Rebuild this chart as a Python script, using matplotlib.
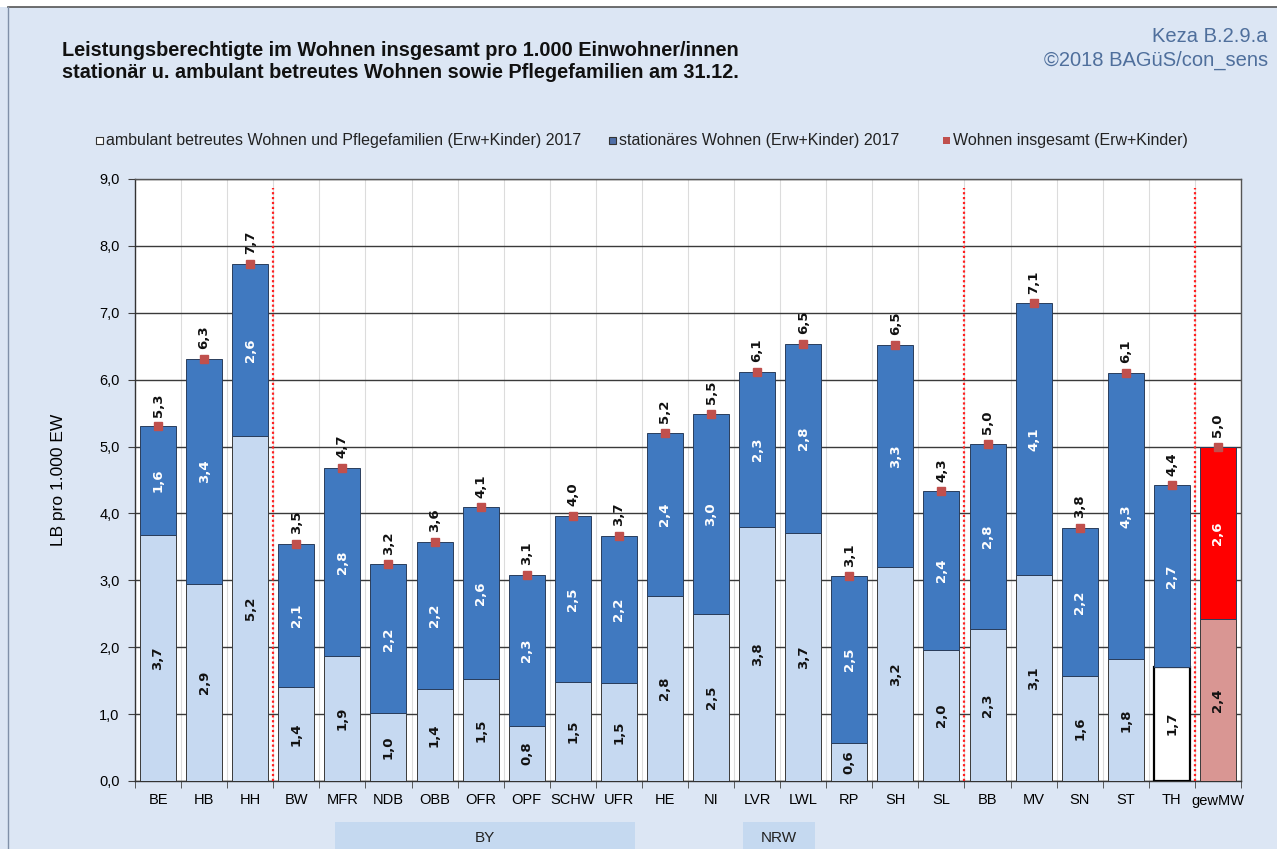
import numpy as np
import matplotlib
matplotlib.use("Agg")
import matplotlib.pyplot as plt
from matplotlib.patches import Rectangle

categories = ["BE", "HB", "HH", "BW", "MFR", "NDB", "OBB", "OFR", "OPF", "SCHW", "UFR",
              "HE", "NI", "LVR", "LWL", "RP", "SH", "SL", "BB", "MV", "SN", "ST", "TH", "gewMW"]
ambulant = [3.68, 2.94, 5.16, 1.40, 1.87, 1.01, 1.37, 1.53, 0.82, 1.48, 1.46,
            2.77, 2.50, 3.79, 3.71, 0.57, 3.20, 1.96, 2.27, 3.08, 1.57, 1.82, 1.71, 2.42]
stationaer = [1.62, 3.37, 2.57, 2.14, 2.81, 2.23, 2.21, 2.56, 2.26, 2.48, 2.20,
              2.44, 2.99, 2.33, 2.82, 2.49, 3.32, 2.37, 2.77, 4.06, 2.21, 4.28, 2.71, 2.58]
legend_labels = ["ambulant betreutes Wohnen und Pflegefamilien (Erw+Kinder) 2017",
                 "stationäres Wohnen (Erw+Kinder) 2017",
                 "Wohnen insgesamt (Erw+Kinder)"]
y_ticks = [0, 1, 2, 3, 4, 5, 6, 7, 8, 9]
separators_after = ["HH", "SL", "TH"]
groups = [("BY", 335, 635), ("NRW", 743, 815)]

amb = np.array(ambulant)
sta = np.array(stationaer)
total = amb + sta

W, H = 1277, 849
fig = plt.figure(figsize=(W / 100, H / 100), dpi=100)
fig.patch.set_facecolor("#dce6f4")
plt.rcParams["font.family"] = ["Liberation Sans", "DejaVu Sans"]

def fx(px):
    return px / W

def fy(py):
    return 1 - py / H

# top white band and frame lines
fig.patches.append(Rectangle((0, fy(7)), 1, 7 / H, transform=fig.transFigure,
                             facecolor="white", edgecolor="none", zorder=0))
fig.add_artist(plt.Line2D([fx(8), 1], [fy(7), fy(7)], transform=fig.transFigure,
                          color="#555555", lw=1.2))
fig.add_artist(plt.Line2D([fx(8), fx(8)], [0, fy(7)], transform=fig.transFigure,
                          color="#8090a8", lw=1.0))

ax = fig.add_axes([fx(135), fy(781), (1241 - 135) / W, (781 - 179) / H])
ax.set_facecolor("white")

n = len(categories)
x = np.arange(n)
amb_colors = ["#c6d9f1"] * n
amb_edges = ["#3a3a3a"] * n
amb_lw = [0.7] * n
sta_colors = ["#4079c0"] * n
i_th = categories.index("TH")
i_mw = categories.index("gewMW")
amb_colors[i_th] = "white"
amb_lw[i_th] = 1.6
amb_edges[i_th] = "black"
amb_colors[i_mw] = "#d99693"
sta_colors[i_mw] = "#ff0000"

ax.bar(x, amb, width=0.78, color=amb_colors, edgecolor=amb_edges, linewidth=amb_lw, zorder=3)
ax.bar(x, sta, bottom=amb, width=0.78, color=sta_colors, edgecolor="#2a3e5c", linewidth=0.7, zorder=3)
ax.plot(x, total, "s", color="#c0504d", ms=5.5, zorder=5)

def fmt(v):
    return f"{v:.1f}".replace(".", ",")

for i in range(n):
    ax.text(x[i], amb[i] / 2, fmt(amb[i]), rotation=90, ha="center", va="center",
            fontsize=9.5, fontweight="bold", color="#111111", family="DejaVu Sans", zorder=6)
    ax.text(x[i], amb[i] + sta[i] / 2, fmt(sta[i]), rotation=90, ha="center", va="center",
            fontsize=9.5, fontweight="bold", color="white", family="DejaVu Sans", zorder=6)
    ax.annotate(fmt(total[i]), (x[i], total[i]), xytext=(0, 7), textcoords="offset points",
                rotation=90, ha="center", va="bottom", fontsize=9.5, fontweight="bold",
                color="#111111", family="DejaVu Sans", zorder=6)

for name in separators_after:
    pos = categories.index(name) + 0.5
    ax.axvline(pos, ymin=0, ymax=0.985, color="#ff2020", ls=(0, (1, 1.2)), lw=1.6, zorder=4)

ax.set_xlim(-0.5, n - 0.5)
ax.set_ylim(0, 9)
ax.set_yticks(y_ticks)
ax.set_yticklabels([fmt(v) for v in y_ticks], fontsize=10.5)
ax.set_xticks(x)
ax.set_xticklabels(categories, fontsize=10.5)
ax.tick_params(axis="x", which="major", length=0, pad=9)
ax.set_xticks(np.arange(-0.5, n, 1), minor=True)
ax.tick_params(axis="x", which="minor", length=5, color="#404040", direction="out")
ax.tick_params(axis="y", length=5, color="#404040", direction="out", pad=6)
ax.grid(axis="y", color="#3a3a3a", lw=1.0, zorder=1)
ax.grid(axis="x", which="minor", color="#dcdcdc", lw=0.8, zorder=1)
ax.set_axisbelow(True)
for s in ax.spines.values():
    s.set_color("#555555")
    s.set_linewidth(1.0)
ax.spines["left"].set_color("#333333")
ax.spines["bottom"].set_color("#333333")
ax.set_ylabel("LB pro 1.000 EW", fontsize=12.5, labelpad=24)

# title
fig.text(fx(62), fy(50), "Leistungsberechtigte im Wohnen insgesamt pro 1.000 Einwohner/innen",
         fontsize=14.3, fontweight="bold", va="center", ha="left", color="#111111")
fig.text(fx(62), fy(73), "stationär u. ambulant betreutes Wohnen sowie Pflegefamilien am 31.12.",
         fontsize=14.3, fontweight="bold", va="center", ha="left", color="#111111")
fig.text(fx(1268), fy(37), "Keza B.2.9.a", fontsize=14.5, ha="right", va="center", color="#4f6f9c")
fig.text(fx(1268), fy(60), "©2018 BAGüS/con_sens", fontsize=14.5, ha="right", va="center", color="#4f6f9c")

# legend
leg_items = [(100, "white", "#333333", legend_labels[0]),
             (613, "#4f6fa8", "#333333", legend_labels[1]),
             (947, "#c0504d", "none", legend_labels[2])]
for px, fc, ec, lab in leg_items:
    fig.patches.append(Rectangle((fx(px - 4), fy(144)), 7 / W, 7 / H, transform=fig.transFigure,
                                 facecolor=fc, edgecolor=ec, linewidth=0.8))
    fig.text(fx(px + 6), fy(140), lab, fontsize=11.5, ha="left", va="center", color="#222222")

# group boxes
for lab, x0, x1 in groups:
    fig.patches.append(Rectangle((fx(x0), 0), (x1 - x0) / W, 27 / H, transform=fig.transFigure,
                                 facecolor="#c5d9f0", edgecolor="none"))
    fig.text(fx((x0 + x1) / 2), fy(838), lab, fontsize=11, ha="center", va="center", color="#222222")

fig.savefig("out.png", dpi=100, facecolor=fig.get_facecolor())
